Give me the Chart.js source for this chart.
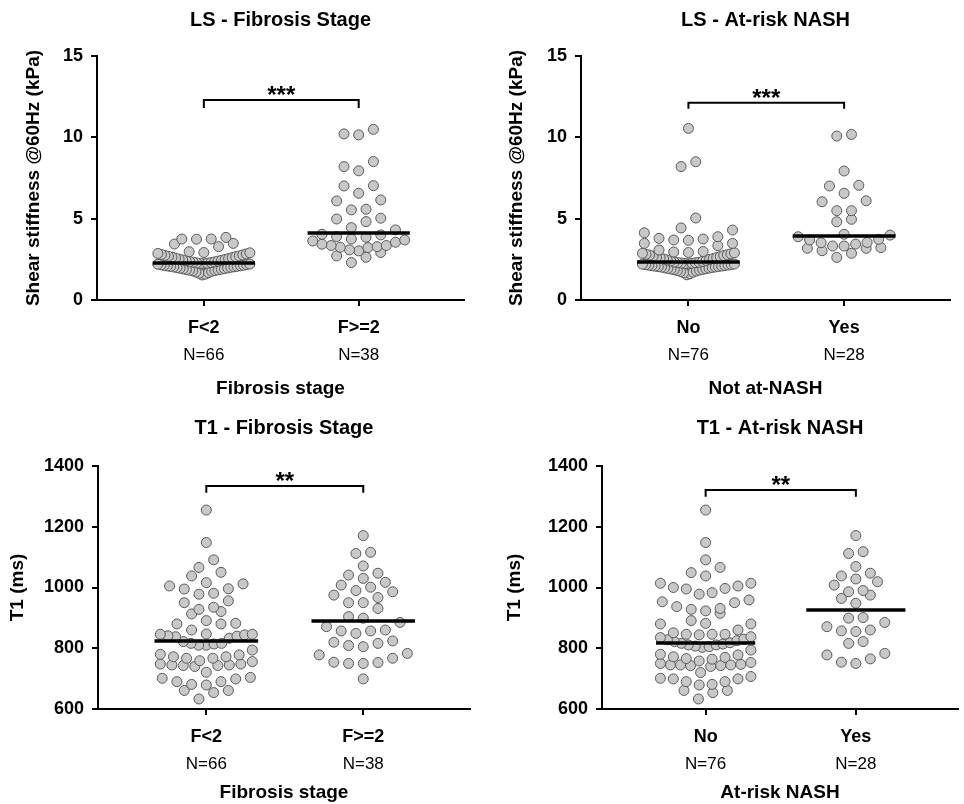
<!DOCTYPE html>
<html>
<head>
<meta charset="utf-8">
<script src="https://cdn.jsdelivr.net/npm/chart.js@4.4.1/dist/chart.umd.min.js"></script>
<style>
  body { margin: 0; background: #fff; }
  #wrap { position: relative; width: 964px; height: 804px; }
  canvas { position: absolute; }
</style>
</head>
<body>
<div id="wrap">
  <canvas id="c1" width="482" height="400" style="left:0;top:0"></canvas>
  <canvas id="c2" width="482" height="400" style="left:482px;top:0"></canvas>
  <canvas id="c3" width="482" height="404" style="left:0;top:400px"></canvas>
  <canvas id="c4" width="482" height="404" style="left:482px;top:400px"></canvas>
</div>
<script>
// categories and group sizes
const fibCats = ['F<2', 'F>=2'];
const fibN = ['N=66', 'N=38'];
const nashCats = ['No', 'Yes'];
const nashN = ['N=76', 'N=28'];

// LS (kPa) by fibrosis stage
const lsFibLow = [3.85, 3.75, 3.75, 3.74, 3.48, 3.44, 3.28,
  2.97, 2.92, 2.9, 2.86, 2.83, 2.8, 2.77, 2.74, 2.71, 2.69, 2.66, 2.63, 2.6,
  2.58, 2.55, 2.51, 2.49, 2.46, 2.44, 2.41, 2.39, 2.36, 2.34, 2.32, 2.3, 2.28,
  2.26, 2.25, 2.23, 2.21, 2.2, 2.18, 2.16, 2.14, 2.13, 2.11, 2.09, 2.07, 2.06, 2.04, 2.03, 2.01,
  1.99, 1.97, 1.95, 1.93, 1.91, 1.89, 1.87, 1.85, 1.83, 1.81, 1.79, 1.76, 1.72, 1.68, 1.64, 1.59, 1.54];
const lsFibHigh = [10.49, 10.15, 10.21, 8.51, 8.2, 7.94, 7.03, 7.01, 6.56, 6.15, 6.09, 5.58, 5.54,
  5.03, 4.98, 4.82, 4.31, 4.45, 4.04, 4.0, 3.86, 3.69, 3.55, 3.43, 3.35, 3.28, 3.35, 3.63, 3.75, 3.9,
  3.24, 3.08, 2.92, 2.63, 2.71, 3.02, 3.22, 2.3];

// LS (kPa) by at-risk NASH
const lsNashNo = [10.55, 8.5, 8.2, 5.04, 4.43, 4.3, 4.13, 3.89, 3.79, 3.75, 3.69, 3.67, 3.48, 3.48, 3.34, 3.07,
  2.98, 2.95, 2.92, 2.9, 2.87, 2.84, 2.81, 2.78, 2.76, 2.73, 2.7, 2.67, 2.64, 2.61, 2.58, 2.55, 2.52, 2.49, 2.46, 2.43, 2.4, 2.37,
  2.33, 2.32, 2.3, 2.29, 2.27, 2.26, 2.24, 2.23, 2.21, 2.2, 2.18, 2.17, 2.15, 2.14, 2.12, 2.11, 2.09, 2.08, 2.06,
  2.05, 2.03, 2.02, 2.0, 1.98, 1.96, 1.94, 1.92, 1.9, 1.88, 1.86, 1.84, 1.81, 1.78, 1.75, 1.71, 1.67, 1.62, 1.55];
const lsNashYes = [10.18, 10.08, 7.93, 7.05, 7.01, 6.56, 6.1, 6.04, 5.49, 5.49, 4.96, 4.81, 4.04, 3.99,
  3.89, 3.73, 3.69, 3.54, 3.52, 3.44, 3.32, 3.32, 3.22, 3.18, 3.18, 3.03, 2.87, 2.62];

// T1 (ms) by fibrosis stage
const t1FibLow = [1255, 1148, 1091, 1050, 1066, 1038, 1016, 1005, 995, 978, 981, 996, 1012,
  956, 935, 921, 913, 928, 950, 891, 880, 860, 846, 844, 846, 847, 880, 882,
  840, 833, 816, 814, 810, 794, 810, 816, 822, 838, 841,
  780, 772, 767, 759, 748, 745, 743, 740, 743, 745, 748, 756, 767, 772, 778,
  721, 701, 679, 661, 690, 633, 654, 690, 661, 699, 681, 704];
const t1FibHigh = [1171, 1116, 1112, 1071, 1030, 1041, 1047, 1008, 975, 990, 986, 1001, 1017,
  967, 950, 931, 950, 899, 904, 871, 857, 857, 860, 885, 849, 824, 816, 805, 809, 820,
  778, 754, 750, 750, 753, 767, 783, 699];

// T1 (ms) by at-risk NASH
const t1NashNo = [1255, 1148, 1091, 1049, 1038, 1066, 1014, 1000, 995, 978, 983, 997, 1005, 1014,
  959, 950, 931, 923, 915, 928, 937, 953, 882, 891, 880, 880,
  838, 851, 846, 846, 844, 846, 860, 835, 822, 814, 811, 807, 803, 794, 805, 811, 816, 818,
  780, 772, 766, 758, 750, 745, 745, 743, 740, 743, 745, 747, 753, 764, 770, 778,
  707, 679, 699, 661, 690, 633, 690, 654, 699, 661, 701, 681, 720, 825, 830, 828];
const t1NashYes = [1171, 1112, 1118, 1069, 1047, 1028, 1008, 1019, 1038, 986, 964, 975, 990, 948,
  899, 871, 885, 901, 857, 855, 860, 822, 816, 783, 765, 750, 754, 778];

// medians (horizontal bars) and significance brackets [end, top]
const lsFibMedians = [2.27, 4.12];
const lsNashMedians = [2.34, 3.93];
const t1FibMedians = [824, 890];
const t1NashMedians = [817, 926];
const lsFibBracket = [11.8, 12.3];
const lsNashBracket = [11.76, 12.13];
const t1FibBracket = [1312, 1334];
const t1NashBracket = [1299, 1321];

const FONT = "'Liberation Sans', Arial, sans-serif";
Chart.defaults.font.family = FONT;
Chart.defaults.color = '#000';

const ROW_PX = 11, STEP_PX = 14.7, MAX_HALF_PX = 46, BAR_HALF = 0.33;

// Prism-like column scatter: rows of close values, lowest value in the middle
function swarm(values, center, chart) {
  const xs = chart.scales.x, ys = chart.scales.y;
  const unit = xs.getPixelForValue(1) - xs.getPixelForValue(0);
  const idx = values.map((_, i) => i).sort((a, b) => values[a] - values[b]);
  const pts = [];
  let i = 0;
  while (i < idx.length) {
    const base = ys.getPixelForValue(values[idx[i]]);
    const row = [];
    while (i < idx.length && base - ys.getPixelForValue(values[idx[i]]) <= ROW_PX) row.push(idx[i++]);
    const n = row.length;
    const step = n > 1 ? Math.min(STEP_PX, 2 * MAX_HALF_PX / (n - 1)) : 0;
    const slots = row.map((_, k) => (k - (n - 1) / 2) * step)
      .sort((a, b) => Math.abs(a) - Math.abs(b) || a - b);
    row.forEach((j, k) => pts.push({ x: center + slots[k] / unit, y: values[j] }));
  }
  return pts;
}

const starsPlugin = {
  id: 'stars',
  afterDatasetsDraw(chart, args, opts) {
    const { ctx, scales: { x, y } } = chart;
    ctx.save();
    ctx.font = 'bold 24px ' + FONT;
    ctx.textAlign = 'center';
    ctx.textBaseline = 'alphabetic';
    ctx.fillStyle = '#000';
    ctx.fillText(opts.text, x.getPixelForValue(0.5), y.getPixelForValue(opts.at) + 3);
    ctx.restore();
  }
};

function makePanel(p) {
  const pointStyle = {
    type: 'scatter', data: [], order: 2,
    pointRadius: 5, pointHoverRadius: 5,
    pointBackgroundColor: '#c8c8c8', pointBorderColor: '#5a5a5a', pointBorderWidth: 1
  };
  const bar = (c, m) => ({
    type: 'line', order: 1, showLine: true, pointRadius: 0,
    borderColor: '#000', borderWidth: 3.5,
    data: [{ x: c - BAR_HALF, y: m }, { x: c + BAR_HALF, y: m }]
  });
  const [bEnd, bTop] = p.bracket;
  const chart = new Chart(document.getElementById(p.id), {
    type: 'scatter',
    data: {
      datasets: [
        { ...pointStyle },
        { ...pointStyle },
        bar(0, p.medians[0]),
        bar(1, p.medians[1]),
        {
          type: 'line', order: 1, showLine: true, pointRadius: 0, clip: false,
          borderColor: '#000', borderWidth: 2,
          data: [{ x: 0, y: bEnd }, { x: 0, y: bTop }, { x: 1, y: bTop }, { x: 1, y: bEnd }]
        }
      ]
    },
    options: {
      responsive: false,
      animation: false,
      events: [],
      layout: { padding: { left: 0, right: p.padRight, top: 0, bottom: 0 } },
      plugins: {
        legend: { display: false },
        tooltip: { enabled: false },
        title: {
          display: true, text: p.title, fullSize: false, color: '#000',
          font: { size: 20, weight: 'bold' },
          padding: { top: p.titleTop, bottom: p.titleBottom }
        },
        stars: { text: p.stars, at: bTop }
      },
      scales: {
        x: {
          type: 'linear', min: -0.69, max: 1.68, weight: 0,
          afterBuildTicks: s => { s.ticks = [{ value: 0 }, { value: 1 }]; },
          afterFit: s => { s.height = 36; },
          ticks: { callback: v => p.cats[v], font: { size: 18, weight: 'bold' }, padding: 11, autoSkip: false, maxRotation: 0 },
          grid: { drawOnChartArea: false, drawTicks: true, tickLength: 6, lineWidth: 2, color: '#000' },
          border: { display: true, color: '#000', width: 2 }
        },
        x2: {
          type: 'linear', position: 'bottom', min: -0.69, max: 1.68, weight: 1,
          afterBuildTicks: s => { s.ticks = [{ value: 0 }, { value: 1 }]; },
          afterFit: s => { s.height = p.x2H; },
          ticks: { callback: v => p.ns[v], font: { size: 17 }, padding: 9, autoSkip: false, maxRotation: 0 },
          grid: { display: false, drawTicks: false },
          border: { display: false },
          title: { display: true, text: p.xTitle, font: { size: 19, weight: 'bold' }, padding: { top: p.xTitlePad, bottom: 0 } }
        },
        y: {
          min: p.yMin, max: p.yMax,
          afterFit: s => { s.width = p.yWidth; },
          ticks: { stepSize: p.yStep, callback: v => String(v), font: { size: 18, weight: 'bold' }, padding: 8 },
          grid: { drawOnChartArea: false, drawTicks: true, tickLength: 6, lineWidth: 2, color: '#000' },
          border: { display: true, color: '#000', width: 2 },
          title: { display: true, text: p.yTitle, font: { size: 19, weight: 'bold' }, padding: { top: p.yTitlePad, bottom: 0 } }
        }
      }
    },
    plugins: [starsPlugin]
  });
  // second pass: place the dots once the scales are known
  chart.data.datasets[0].data = swarm(p.groups[0], 0, chart);
  chart.data.datasets[1].data = swarm(p.groups[1], 1, chart);
  chart.update('none');
}

makePanel({ id: 'c1', title: 'LS - Fibrosis Stage', yTitle: 'Shear stiffness @60Hz (kPa)', xTitle: 'Fibrosis stage',
  cats: fibCats, ns: fibN, groups: [lsFibLow, lsFibHigh], medians: lsFibMedians, bracket: lsFibBracket, stars: '***',
  yMin: 0, yMax: 15, yStep: 5, yWidth: 97, padRight: 18, titleTop: 8, titleBottom: 24, x2H: 64, xTitlePad: 5, yTitlePad: 22 });
makePanel({ id: 'c2', title: 'LS - At-risk NASH', yTitle: 'Shear stiffness @60Hz (kPa)', xTitle: 'Not at-NASH',
  cats: nashCats, ns: nashN, groups: [lsNashNo, lsNashYes], medians: lsNashMedians, bracket: lsNashBracket, stars: '***',
  yMin: 0, yMax: 15, yStep: 5, yWidth: 99, padRight: 14, titleTop: 8, titleBottom: 24, x2H: 64, xTitlePad: 5, yTitlePad: 23 });
makePanel({ id: 'c3', title: 'T1 - Fibrosis Stage', yTitle: 'T1 (ms)', xTitle: 'Fibrosis stage',
  cats: fibCats, ns: fibN, groups: [t1FibLow, t1FibHigh], medians: t1FibMedians, bracket: t1FibBracket, stars: '**',
  yMin: 600, yMax: 1400, yStep: 200, yWidth: 98, padRight: 12, titleTop: 16, titleBottom: 26, x2H: 59, xTitlePad: 3, yTitlePad: 6 });
makePanel({ id: 'c4', title: 'T1 - At-risk NASH', yTitle: 'T1 (ms)', xTitle: 'At-risk NASH',
  cats: nashCats, ns: nashN, groups: [t1NashNo, t1NashYes], medians: t1NashMedians, bracket: t1NashBracket, stars: '**',
  yMin: 600, yMax: 1400, yStep: 200, yWidth: 120, padRight: 0, titleTop: 16, titleBottom: 26, x2H: 59, xTitlePad: 3, yTitlePad: 21 });
</script>
</body>
</html>
